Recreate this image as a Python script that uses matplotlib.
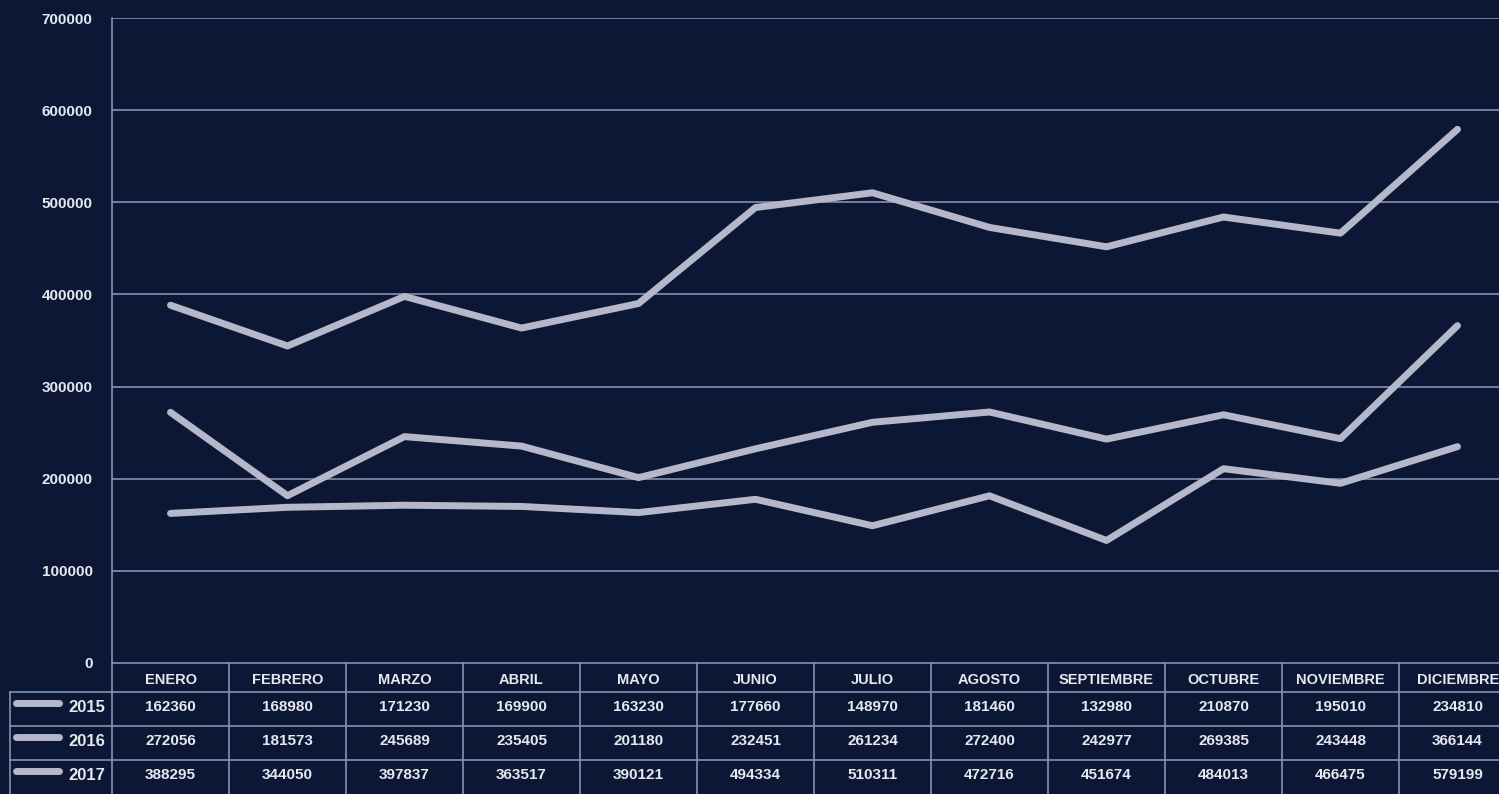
import matplotlib
matplotlib.use("Agg")
import matplotlib.pyplot as plt

months = ["ENERO", "FEBRERO", "MARZO", "ABRIL", "MAYO", "JUNIO", "JULIO",
          "AGOSTO", "SEPTIEMBRE", "OCTUBRE", "NOVIEMBRE", "DICIEMBRE"]
years = ["2015", "2016", "2017"]
v2015 = [162360, 168980, 171230, 169900, 163230, 177660, 148970, 181460, 132980, 210870, 195010, 234810]
v2016 = [272056, 181573, 245689, 235405, 201180, 232451, 261234, 272400, 242977, 269385, 243448, 366144]
v2017 = [388295, 344050, 397837, 363517, 390121, 494334, 510311, 472716, 451674, 484013, 466475, 579199]
yticks = [0, 100000, 200000, 300000, 400000, 500000, 600000, 700000]

series = [v2015, v2016, v2017]

BG = "#0b1735"
LINE = "#b4b8ca"
GRID = "#8690b0"
TXT = "#e6e8f0"
FONT = ["Liberation Sans", "DejaVu Sans"]

W, H = 1499, 794
fig = plt.figure(figsize=(W / 100, H / 100), dpi=100, facecolor=BG)

colw = 117.0
x0 = 112.0
xr = x0 + 12 * colw
ytop, ybot = 18.0, 663.0

ax = fig.add_axes([x0 / W, 1 - ybot / H, (xr - x0) / W, (ybot - ytop) / H])
ax.set_facecolor(BG)
ax.set_xlim(-0.5, 11.5)
ax.set_ylim(0, 700000)
for s in ["top", "right", "bottom"]:
    ax.spines[s].set_visible(False)
ax.spines["left"].set_color(GRID)
ax.spines["left"].set_linewidth(1.2)
ax.set_xticks([])
ax.set_yticks(yticks)
ax.set_yticklabels([str(t) for t in yticks], family=FONT, fontweight="bold",
                   fontsize=11, color=TXT)
ax.tick_params(axis="y", length=0, pad=14)
for t in yticks[1:]:
    ax.axhline(t, color=GRID, lw=1.2, zorder=1)

xs = list(range(12))
for vals in series:
    ax.plot(xs, vals, color=LINE, lw=5, solid_capstyle="round",
            solid_joinstyle="round", zorder=3)

# table
tl = 10.0
ax_t = fig.add_axes([tl / W, 0, (xr - tl) / W, (H - ybot) / H])
ax_t.set_facecolor(BG)
ax_t.axis("off")
xl = -0.5 - (x0 - tl) / colw
ax_t.set_xlim(xl, 11.5)
th = H - ybot
ax_t.set_ylim(th, 0)
rows_y = [0, 29, 63, 97, 131]

lkw = dict(color=GRID, lw=1.2, clip_on=False)
ax_t.plot([-0.5, 11.5], [rows_y[0], rows_y[0]], **lkw)
ax_t.plot([xl, 11.5], [rows_y[1], rows_y[1]], **lkw)
for r in rows_y[2:4]:
    ax_t.plot([xl, 11.5], [r, r], **lkw)
ax_t.plot([xl, xl], [rows_y[1], th], **lkw)
for i in range(13):
    ax_t.plot([i - 0.5, i - 0.5], [0, th], **lkw)

hkw = dict(family=FONT, fontweight="bold", fontsize=10.5, color=TXT, va="center")
for i, m in enumerate(months):
    if i == len(months) - 1:
        ax_t.text(i + 0.36, (rows_y[0] + rows_y[1]) / 2 + 2, m, ha="right", **hkw)
    else:
        ax_t.text(i, (rows_y[0] + rows_y[1]) / 2 + 2, m, ha="center", **hkw)

tkw = dict(family=FONT, fontweight="bold", fontsize=11, color=TXT,
           ha="center", va="center")
for r, (yr, vals) in enumerate(zip(years, series)):
    yc = (rows_y[r + 1] + rows_y[r + 2]) / 2 - 2
    for i, v in enumerate(vals):
        ax_t.text(i, yc, str(v), **tkw)
    ax_t.plot([xl + 0.05, xl + 0.42], [yc - 4, yc - 4], color=LINE, lw=5,
              solid_capstyle="round")
    ax_t.text(-0.56, yc, yr, family=FONT, fontweight="bold", fontsize=12,
              color=TXT, ha="right", va="center")

fig.savefig("out.png", dpi=100, facecolor=BG)
